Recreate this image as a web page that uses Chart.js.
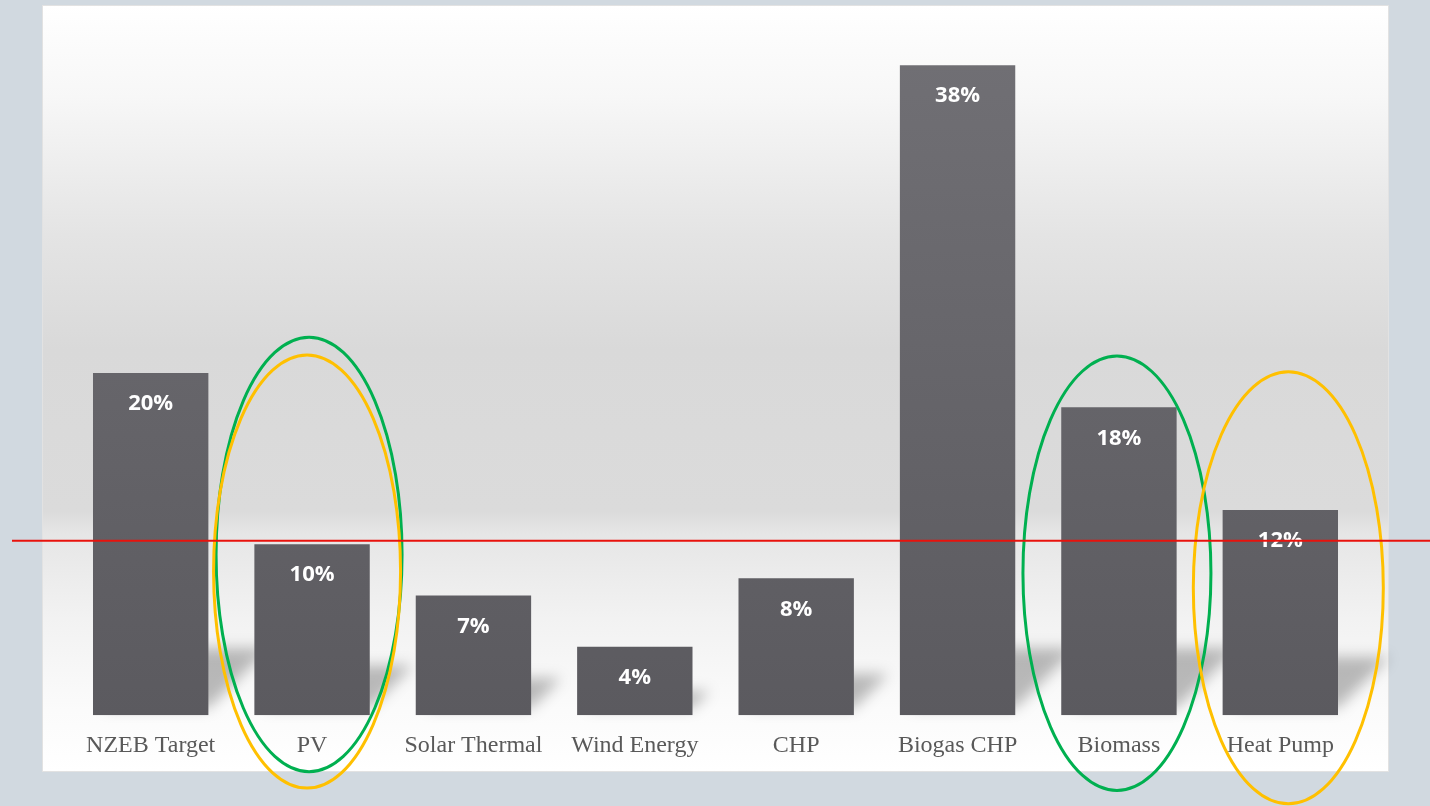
<!DOCTYPE html>
<html>
<head>
<meta charset="utf-8">
<script src="https://cdn.jsdelivr.net/npm/chart.js@4.4.1/dist/chart.umd.min.js"></script>
<style>
  html, body { margin: 0; padding: 0; background: #d1d9e0; }
  #wrap { width: 1430px; height: 806px; position: relative; }
</style>
</head>
<body>
<div id="wrap"><canvas id="c" width="1430" height="806"></canvas></div>
<script>
// ---- data ----
const categories = ['NZEB Target', 'PV', 'Solar Thermal', 'Wind Energy', 'CHP', 'Biogas CHP', 'Biomass', 'Heat Pump'];
const shares = [20, 10, 7, 4, 8, 38, 18, 12];
const referenceLine = 10.2;
// highlight ellipses: category index, centre value, vertical radius (value units)
const ellipseIndex = [1, 1, 6, 7];
const ellipseCenter = [9.4, 8.4, 8.3, 7.45];
const ellipseRadius = [12.7, 12.66, 12.7, 12.63];
const ellipseColor = ['#00b050', '#ffc000', '#00b050', '#ffc000'];
const ellipseShift = [-3, -5, -2, 8];
const ellipseWidth = [93, 93.5, 94, 95];

const panelPlugin = {
  id: 'panel',
  beforeDraw(chart) {
    const ctx = chart.ctx;
    ctx.save();
    const x0 = 42, y0 = 5, x1 = 1389, y1 = 772;
    const g = ctx.createLinearGradient(0, y0, 0, y1);
    g.addColorStop(0.00, '#ffffff');
    g.addColorStop(0.12, '#f7f7f7');
    g.addColorStop(0.30, '#e4e4e4');
    g.addColorStop(0.45, '#d9d9d9');
    g.addColorStop(0.66, '#dbdbdb');
    g.addColorStop(0.69, '#e6e6e6');
    g.addColorStop(0.80, '#f2f2f2');
    g.addColorStop(0.92, '#fbfbfb');
    g.addColorStop(1.00, '#ffffff');
    ctx.fillStyle = g;
    ctx.fillRect(x0, y0, x1 - x0, y1 - y0);
    ctx.strokeStyle = '#e2e2e2';
    ctx.lineWidth = 1;
    ctx.strokeRect(x0 + 0.5, y0 + 0.5, x1 - x0 - 1, y1 - y0 - 1);
    ctx.restore();
  },
  beforeDatasetsDraw(chart) {
    const ctx = chart.ctx;
    const meta = chart.getDatasetMeta(0);
    ctx.save();
    ctx.filter = 'blur(7px)';
    ctx.fillStyle = 'rgba(0,0,0,0.26)';
    meta.data.forEach(bar => {
      const xL = bar.x - bar.width / 2, xR = bar.x + bar.width / 2;
      const base = bar.base - 7;
      const h = bar.base - bar.y;
      const s = Math.min(h * 0.25, 60);
      ctx.beginPath();
      ctx.moveTo(xL + 10, base);
      ctx.lineTo(xR, base);
      ctx.lineTo(xR + s, base - s);
      ctx.lineTo(xL + 10 + s, base - s);
      ctx.closePath();
      ctx.fill();
    });
    ctx.restore();
  },
  afterDatasetsDraw(chart) {
    const ctx = chart.ctx;
    const meta = chart.getDatasetMeta(0);
    ctx.save();
    ctx.fillStyle = '#ffffff';
    ctx.font = 'bold 22px "Open Sans", sans-serif';
    ctx.textAlign = 'center';
    ctx.textBaseline = 'middle';
    meta.data.forEach((bar, i) => {
      ctx.fillText(shares[i] + '%', bar.x, bar.y + 31);
    });
    ctx.restore();
  },
  afterDraw(chart) {
    const ctx = chart.ctx;
    const xs = chart.scales.x, ys = chart.scales.y;
    ctx.save();
    ctx.lineWidth = 3;
    ellipseIndex.forEach((idx, k) => {
      const cx = xs.getPixelForValue(idx) + ellipseShift[k];
      const cy = ys.getPixelForValue(ellipseCenter[k]);
      const ry = Math.abs(ys.getPixelForValue(0) - ys.getPixelForValue(ellipseRadius[k]));
      ctx.strokeStyle = ellipseColor[k];
      ctx.beginPath();
      ctx.ellipse(cx, cy, ellipseWidth[k], ry, 0, 0, Math.PI * 2);
      ctx.stroke();
    });
    const yy = ys.getPixelForValue(referenceLine);
    ctx.strokeStyle = '#e8120c';
    ctx.lineWidth = 2;
    ctx.beginPath();
    ctx.moveTo(12, yy);
    ctx.lineTo(1430, yy);
    ctx.stroke();
    ctx.restore();
  }
};

const ctx = document.getElementById('c').getContext('2d');
new Chart(ctx, {
  type: 'bar',
  data: {
    labels: categories,
    datasets: [{
      data: shares,
      backgroundColor: (c) => {
        const area = c.chart.chartArea;
        if (!area) return '#666569';
        const el = c.element;
        const top = el && isFinite(el.y) ? el.y : area.top;
        const bottom = el && isFinite(el.base) ? el.base : area.bottom;
        const g = c.chart.ctx.createLinearGradient(0, top, 0, bottom);
        g.addColorStop(0, '#717075');
        g.addColorStop(1, '#5b5a5f');
        return g;
      },
      borderWidth: 0,
      categoryPercentage: 1,
      barPercentage: 0.715
    }]
  },
  options: {
    responsive: false,
    animation: false,
    devicePixelRatio: 1,
    layout: { padding: { left: 70, right: 69, top: 31, bottom: 30 } },
    plugins: { legend: { display: false }, tooltip: { enabled: false } },
    scales: {
      x: {
        grid: { display: false, drawTicks: false },
        border: { display: false },
        ticks: {
          color: '#595959',
          padding: 16,
          font: { family: '"Liberation Serif", "Times New Roman", serif', size: 24 },
          maxRotation: 0, autoSkip: false
        }
      },
      y: {
        display: false,
        min: 0, max: 40
      }
    }
  },
  plugins: [panelPlugin]
});
</script>
</body>
</html>
